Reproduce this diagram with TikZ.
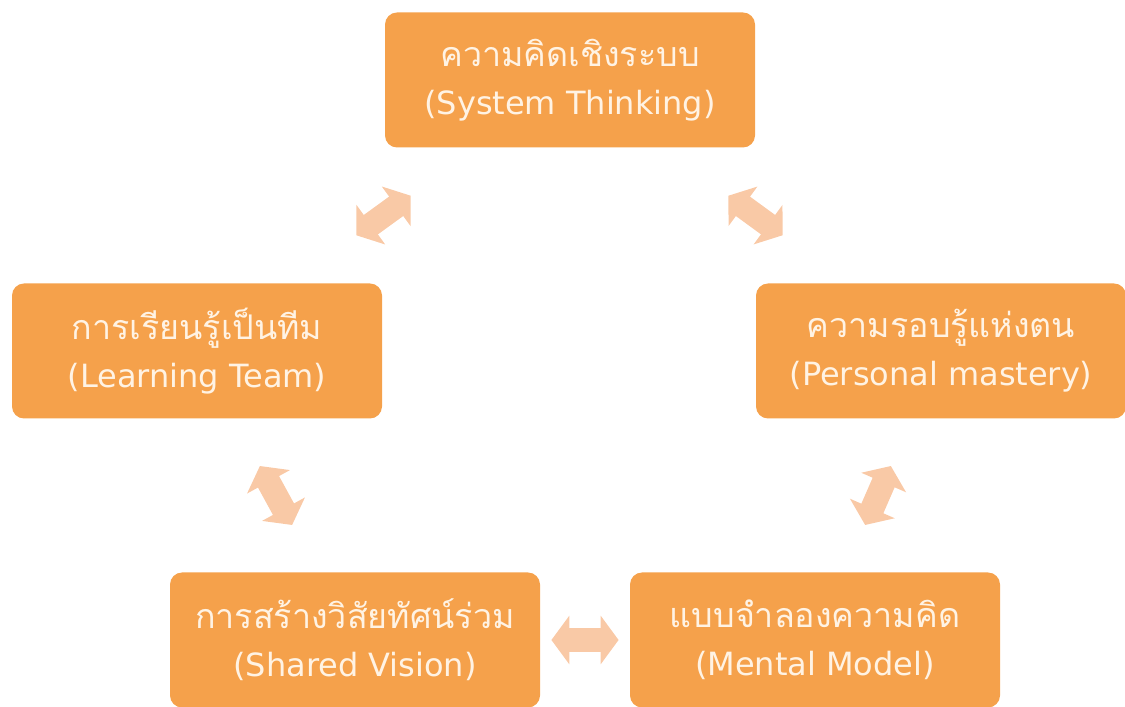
\documentclass[tikz,border=0pt]{standalone}
\usepackage{fontspec}
\setmainfont[Script=Thai]{Loma}
\newfontfamily\latinfont{DejaVu Sans}
\usepackage{tikz}
\usetikzlibrary{arrows.meta,calc}
\definecolor{boxorange}{HTML}{F5A14B}
\definecolor{boxtext}{HTML}{FFF3E4}
\definecolor{peach}{HTML}{F9C9A6}
\newcommand{\en}[1]{{\latinfont\fontsize{16pt}{22pt}\selectfont #1}}
\tikzset{
  every node/.style={font=\fontsize{17pt}{24pt}\selectfont,text=boxtext},
  disc/.style={fill=boxorange,rounded corners=6pt,align=center,minimum width=185pt,minimum height=67.5pt,inner sep=2pt},
  link/.style={draw=peach,line width=12pt,{Triangle[width=24pt,length=9pt]}-{Triangle[width=24pt,length=9pt]}}
}

\begin{document}
\begin{tikzpicture}[x=0.5pt,y=0.5pt]
  \useasboundingbox (0,0) rectangle (1125,707);
  \node[disc] (system) at (570,627) {ความคิดเชิงระบบ\\\en{(System Thinking)}};
  \node[disc] (mastery) at (941,356) {ความรอบรู้แห่งตน\\\en{(Personal mastery)}};
  \node[disc] (mental) at (815,67) {แบบจำลองความคิด\\\en{(Mental Model)}};
  \node[disc] (vision) at (355,67) {การสร้างวิสัยทัศน์ร่วม\\\en{(Shared Vision)}};
  \node[disc] (team) at (197,356) {การเรียนรู้เป็นทีม\\\en{(Learning Team)}};

  % double arrows around the cycle
  \draw[link] ($(system)!0.427!(mastery)$) -- ($(system)!0.573!(mastery)$);
  \draw[link] ($(mastery)!0.398!(mental)$) -- ($(mastery)!0.602!(mental)$);
  \draw[link] ($(mental)!0.427!(vision)$) -- ($(mental)!0.573!(vision)$);
  \draw[link] ($(vision)!0.398!(team)$) -- ($(vision)!0.602!(team)$);
  \draw[link] ($(team)!0.427!(system)$) -- ($(team)!0.573!(system)$);
\end{tikzpicture}
\end{document}
